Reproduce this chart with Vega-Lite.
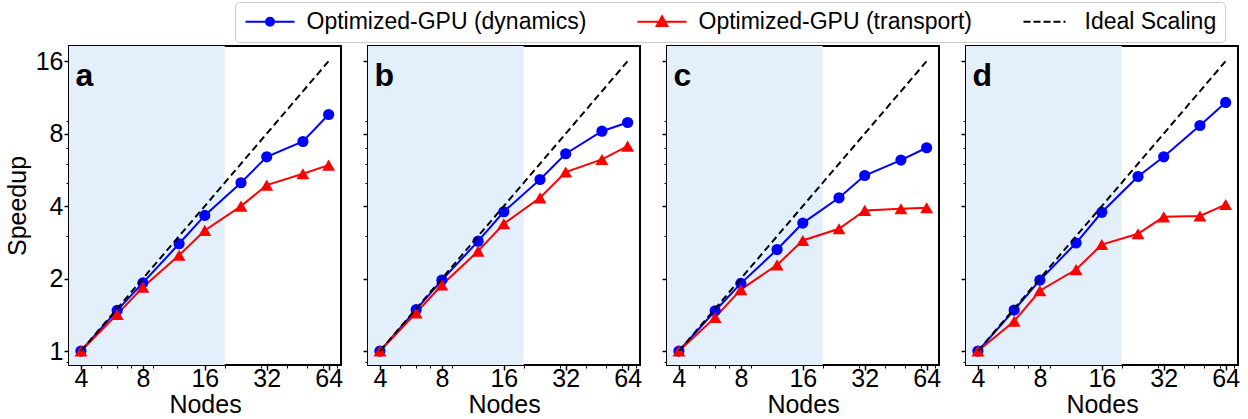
{
  "$schema": "https://vega.github.io/schema/vega-lite/v6.json",
  "padding": {"left": 4, "top": 1, "right": 0, "bottom": 0},
  "datasets": {
    "curves": [
      {"panel": "a", "series": "Optimized-GPU (dynamics)", "nodes": 4, "speedup": 1},
      {"panel": "a", "series": "Optimized-GPU (dynamics)", "nodes": 6, "speedup": 1.475},
      {"panel": "a", "series": "Optimized-GPU (dynamics)", "nodes": 8, "speedup": 1.92},
      {"panel": "a", "series": "Optimized-GPU (dynamics)", "nodes": 12, "speedup": 2.79},
      {"panel": "a", "series": "Optimized-GPU (dynamics)", "nodes": 16, "speedup": 3.66},
      {"panel": "a", "series": "Optimized-GPU (dynamics)", "nodes": 24, "speedup": 5.0},
      {"panel": "a", "series": "Optimized-GPU (dynamics)", "nodes": 32, "speedup": 6.41},
      {"panel": "a", "series": "Optimized-GPU (dynamics)", "nodes": 48, "speedup": 7.42},
      {"panel": "a", "series": "Optimized-GPU (dynamics)", "nodes": 64, "speedup": 9.61},
      {"panel": "a", "series": "Optimized-GPU (transport)", "nodes": 4, "speedup": 1},
      {"panel": "a", "series": "Optimized-GPU (transport)", "nodes": 6, "speedup": 1.42},
      {"panel": "a", "series": "Optimized-GPU (transport)", "nodes": 8, "speedup": 1.84},
      {"panel": "a", "series": "Optimized-GPU (transport)", "nodes": 12, "speedup": 2.5},
      {"panel": "a", "series": "Optimized-GPU (transport)", "nodes": 16, "speedup": 3.17},
      {"panel": "a", "series": "Optimized-GPU (transport)", "nodes": 24, "speedup": 4.0},
      {"panel": "a", "series": "Optimized-GPU (transport)", "nodes": 32, "speedup": 4.89},
      {"panel": "a", "series": "Optimized-GPU (transport)", "nodes": 48, "speedup": 5.45},
      {"panel": "a", "series": "Optimized-GPU (transport)", "nodes": 64, "speedup": 5.92},
      {"panel": "b", "series": "Optimized-GPU (dynamics)", "nodes": 4, "speedup": 1},
      {"panel": "b", "series": "Optimized-GPU (dynamics)", "nodes": 6, "speedup": 1.485},
      {"panel": "b", "series": "Optimized-GPU (dynamics)", "nodes": 8, "speedup": 1.97},
      {"panel": "b", "series": "Optimized-GPU (dynamics)", "nodes": 12, "speedup": 2.86},
      {"panel": "b", "series": "Optimized-GPU (dynamics)", "nodes": 16, "speedup": 3.79},
      {"panel": "b", "series": "Optimized-GPU (dynamics)", "nodes": 24, "speedup": 5.16},
      {"panel": "b", "series": "Optimized-GPU (dynamics)", "nodes": 32, "speedup": 6.6},
      {"panel": "b", "series": "Optimized-GPU (dynamics)", "nodes": 48, "speedup": 8.19},
      {"panel": "b", "series": "Optimized-GPU (dynamics)", "nodes": 64, "speedup": 8.9},
      {"panel": "b", "series": "Optimized-GPU (transport)", "nodes": 4, "speedup": 1},
      {"panel": "b", "series": "Optimized-GPU (transport)", "nodes": 6, "speedup": 1.44},
      {"panel": "b", "series": "Optimized-GPU (transport)", "nodes": 8, "speedup": 1.88},
      {"panel": "b", "series": "Optimized-GPU (transport)", "nodes": 12, "speedup": 2.6},
      {"panel": "b", "series": "Optimized-GPU (transport)", "nodes": 16, "speedup": 3.38},
      {"panel": "b", "series": "Optimized-GPU (transport)", "nodes": 24, "speedup": 4.33},
      {"panel": "b", "series": "Optimized-GPU (transport)", "nodes": 32, "speedup": 5.54},
      {"panel": "b", "series": "Optimized-GPU (transport)", "nodes": 48, "speedup": 6.25},
      {"panel": "b", "series": "Optimized-GPU (transport)", "nodes": 64, "speedup": 7.1},
      {"panel": "c", "series": "Optimized-GPU (dynamics)", "nodes": 4, "speedup": 1},
      {"panel": "c", "series": "Optimized-GPU (dynamics)", "nodes": 6, "speedup": 1.47},
      {"panel": "c", "series": "Optimized-GPU (dynamics)", "nodes": 8, "speedup": 1.91},
      {"panel": "c", "series": "Optimized-GPU (dynamics)", "nodes": 12, "speedup": 2.64},
      {"panel": "c", "series": "Optimized-GPU (dynamics)", "nodes": 16, "speedup": 3.4},
      {"panel": "c", "series": "Optimized-GPU (dynamics)", "nodes": 24, "speedup": 4.33},
      {"panel": "c", "series": "Optimized-GPU (dynamics)", "nodes": 32, "speedup": 5.36},
      {"panel": "c", "series": "Optimized-GPU (dynamics)", "nodes": 48, "speedup": 6.21},
      {"panel": "c", "series": "Optimized-GPU (dynamics)", "nodes": 64, "speedup": 6.99},
      {"panel": "c", "series": "Optimized-GPU (transport)", "nodes": 4, "speedup": 1},
      {"panel": "c", "series": "Optimized-GPU (transport)", "nodes": 6, "speedup": 1.38},
      {"panel": "c", "series": "Optimized-GPU (transport)", "nodes": 8, "speedup": 1.8},
      {"panel": "c", "series": "Optimized-GPU (transport)", "nodes": 12, "speedup": 2.28},
      {"panel": "c", "series": "Optimized-GPU (transport)", "nodes": 16, "speedup": 2.88},
      {"panel": "c", "series": "Optimized-GPU (transport)", "nodes": 24, "speedup": 3.22},
      {"panel": "c", "series": "Optimized-GPU (transport)", "nodes": 32, "speedup": 3.84},
      {"panel": "c", "series": "Optimized-GPU (transport)", "nodes": 48, "speedup": 3.9},
      {"panel": "c", "series": "Optimized-GPU (transport)", "nodes": 64, "speedup": 3.94},
      {"panel": "d", "series": "Optimized-GPU (dynamics)", "nodes": 4, "speedup": 1},
      {"panel": "d", "series": "Optimized-GPU (dynamics)", "nodes": 6, "speedup": 1.48},
      {"panel": "d", "series": "Optimized-GPU (dynamics)", "nodes": 8, "speedup": 1.97},
      {"panel": "d", "series": "Optimized-GPU (dynamics)", "nodes": 12, "speedup": 2.81},
      {"panel": "d", "series": "Optimized-GPU (dynamics)", "nodes": 16, "speedup": 3.77},
      {"panel": "d", "series": "Optimized-GPU (dynamics)", "nodes": 24, "speedup": 5.31},
      {"panel": "d", "series": "Optimized-GPU (dynamics)", "nodes": 32, "speedup": 6.41},
      {"panel": "d", "series": "Optimized-GPU (dynamics)", "nodes": 48, "speedup": 8.65},
      {"panel": "d", "series": "Optimized-GPU (dynamics)", "nodes": 64, "speedup": 10.78},
      {"panel": "d", "series": "Optimized-GPU (transport)", "nodes": 4, "speedup": 1},
      {"panel": "d", "series": "Optimized-GPU (transport)", "nodes": 6, "speedup": 1.33},
      {"panel": "d", "series": "Optimized-GPU (transport)", "nodes": 8, "speedup": 1.78},
      {"panel": "d", "series": "Optimized-GPU (transport)", "nodes": 12, "speedup": 2.18},
      {"panel": "d", "series": "Optimized-GPU (transport)", "nodes": 16, "speedup": 2.77},
      {"panel": "d", "series": "Optimized-GPU (transport)", "nodes": 24, "speedup": 3.07},
      {"panel": "d", "series": "Optimized-GPU (transport)", "nodes": 32, "speedup": 3.61},
      {"panel": "d", "series": "Optimized-GPU (transport)", "nodes": 48, "speedup": 3.64},
      {"panel": "d", "series": "Optimized-GPU (transport)", "nodes": 64, "speedup": 4.06}
    ],
    "ideal": [
      {"series": "Ideal Scaling", "nodes": 4, "speedup": 1},
      {"series": "Ideal Scaling", "nodes": 64, "speedup": 16}
    ]
  },
  "hconcat": [
    {
      "width": 272, "height": 319,
      "layer": [
        {
          "data": {"values": [{}]},
          "mark": {"type": "rect", "color": "#e3f0fb"},
          "encoding": {
            "x": {"datum": 3.5, "type": "quantitative",
              "scale": {"type": "log", "base": 2, "domain": [3.5, 73.5], "nice": false},
              "axis": {"title": "Nodes", "values": [4, 5, 6, 7, 8, 9, 16, 20, 30, 32, 40, 50, 60, 64, 70],
                "labelExpr": "indexof([4, 8, 16, 32, 64], datum.value) >= 0 ? '' + datum.value : ''",
                "tickSize": {"condition": {"test": "indexof([4, 8, 16, 32, 64], datum.value) >= 0", "value": 5}, "value": 3},
                "tickWidth": {"condition": {"test": "indexof([4, 8, 16, 32, 64], datum.value) >= 0", "value": 1.5}, "value": 1}}},
            "x2": {"datum": 20},
            "y": {"datum": 0.875, "type": "quantitative",
              "scale": {"type": "log", "base": 2, "domain": [0.875, 18.5], "nice": false},
              "axis": {"title": "Speedup", "values": [0.9, 1, 2, 3, 4, 5, 6, 7, 8, 9, 16],
                "labelExpr": "indexof([1, 2, 4, 8, 16], datum.value) >= 0 ? '' + datum.value : ''",
                "tickSize": {"condition": {"test": "indexof([1, 2, 4, 8, 16], datum.value) >= 0", "value": 5}, "value": 3},
                "tickWidth": {"condition": {"test": "indexof([1, 2, 4, 8, 16], datum.value) >= 0", "value": 1.5}, "value": 1}}},
            "y2": {"datum": 18.5}
          }
        },
        {
          "data": {"name": "curves"},
          "transform": [{"filter": "datum.panel === 'a'"}],
          "mark": {"type": "line", "strokeWidth": 2},
          "encoding": {
            "x": {"field": "nodes", "type": "quantitative"},
            "y": {"field": "speedup", "type": "quantitative"},
            "color": {"field": "series", "type": "nominal",
              "scale": {"domain": ["Optimized-GPU (dynamics)", "Optimized-GPU (transport)", "Ideal Scaling"], "range": ["#0000ff", "#ff0000", "#000000"]},
              "legend": {
                "orient": "none", "legendX": 166, "legendY": -44, "direction": "horizontal",
                "title": null, "labelFontSize": 23, "labelFont": "Liberation Sans", "labelColor": "black",
                "labelLimit": 500, "symbolSize": 100, "symbolOffset": 15.5, "labelOffset": 25, "columnPadding": 46,
                "padding": 8, "strokeColor": "#cccccc", "cornerRadius": 4, "fillColor": "white",
                "symbolStrokeWidth": 2,
                "encode": {
                  "symbols": {
                    "update": {
                      "shape": {"signal": "datum.value === 'Optimized-GPU (dynamics)' ? 'M-4.9,0H4.9M-0.8,0A0.8,0.8,0,1,1,0.8,0A0.8,0.8,0,1,1,-0.8,0Z' : datum.value === 'Optimized-GPU (transport)' ? 'M-4.9,0H4.9M0,-1.08L1.06,0.84L-1.06,0.84Z' : 'M-4.9,0H-3.5M-2.9,0H-1.5M-0.9,0H0.5M1.1,0H2.5M3.1,0H3.5'"},
                      "fill": {"scale": "color", "field": "value"},
                      "stroke": {"scale": "color", "field": "value"},
                      "strokeWidth": {"value": 2},
                      "opacity": {"value": 1}
                    }
                  }
                }
              }}
          }
        },
        {
          "data": {"name": "curves"},
          "transform": [{"filter": "datum.panel === 'a'"}],
          "mark": {"type": "point", "filled": true, "opacity": 1},
          "encoding": {
            "x": {"field": "nodes", "type": "quantitative"},
            "y": {"field": "speedup", "type": "quantitative"},
            "color": {"field": "series", "type": "nominal", "legend": null},
            "shape": {"field": "series", "type": "nominal", "scale": {"domain": ["Optimized-GPU (dynamics)", "Optimized-GPU (transport)"], "range": ["circle", "triangle-up"]}, "legend": null},
            "size": {"field": "series", "type": "nominal", "scale": {"domain": ["Optimized-GPU (dynamics)", "Optimized-GPU (transport)"], "range": [125, 165]}, "legend": null}
          }
        },
        {
          "data": {"name": "ideal"},
          "mark": {"type": "line", "color": "black", "strokeWidth": 2, "strokeDash": [7, 4]},
          "encoding": {
            "x": {"field": "nodes", "type": "quantitative"},
            "y": {"field": "speedup", "type": "quantitative"}
          }
        },
        {
          "data": {"values": [{}]},
          "mark": {"type": "text", "fontSize": 32, "fontWeight": "bold", "align": "left", "baseline": "alphabetic", "color": "black"},
          "encoding": {"x": {"datum": 3.76}, "y": {"datum": 12.6}, "text": {"value": "a"}}
        }
      ]
    },
    {
      "width": 272, "height": 319,
      "layer": [
        {
          "data": {"values": [{}]},
          "mark": {"type": "rect", "color": "#e3f0fb"},
          "encoding": {
            "x": {"datum": 3.5, "type": "quantitative",
              "scale": {"type": "log", "base": 2, "domain": [3.5, 73.5], "nice": false},
              "axis": {"title": "Nodes", "values": [4, 5, 6, 7, 8, 9, 16, 20, 30, 32, 40, 50, 60, 64, 70],
                "labelExpr": "indexof([4, 8, 16, 32, 64], datum.value) >= 0 ? '' + datum.value : ''",
                "tickSize": {"condition": {"test": "indexof([4, 8, 16, 32, 64], datum.value) >= 0", "value": 5}, "value": 3},
                "tickWidth": {"condition": {"test": "indexof([4, 8, 16, 32, 64], datum.value) >= 0", "value": 1.5}, "value": 1}}},
            "x2": {"datum": 20},
            "y": {"datum": 0.875, "type": "quantitative",
              "scale": {"type": "log", "base": 2, "domain": [0.875, 18.5], "nice": false},
              "axis": {"title": null, "labels": false, "values": [0.9, 1, 2, 3, 4, 5, 6, 7, 8, 9, 16],
                "tickSize": {"condition": {"test": "indexof([1, 2, 4, 8, 16], datum.value) >= 0", "value": 5}, "value": 3},
                "tickWidth": {"condition": {"test": "indexof([1, 2, 4, 8, 16], datum.value) >= 0", "value": 1.5}, "value": 1}}},
            "y2": {"datum": 18.5}
          }
        },
        {
          "data": {"name": "curves"},
          "transform": [{"filter": "datum.panel === 'b'"}],
          "mark": {"type": "line", "strokeWidth": 2},
          "encoding": {
            "x": {"field": "nodes", "type": "quantitative"},
            "y": {"field": "speedup", "type": "quantitative"},
            "color": {"field": "series", "type": "nominal", "legend": null}
          }
        },
        {
          "data": {"name": "curves"},
          "transform": [{"filter": "datum.panel === 'b'"}],
          "mark": {"type": "point", "filled": true, "opacity": 1},
          "encoding": {
            "x": {"field": "nodes", "type": "quantitative"},
            "y": {"field": "speedup", "type": "quantitative"},
            "color": {"field": "series", "type": "nominal", "legend": null},
            "shape": {"field": "series", "type": "nominal", "legend": null},
            "size": {"field": "series", "type": "nominal", "legend": null}
          }
        },
        {
          "data": {"name": "ideal"},
          "mark": {"type": "line", "color": "black", "strokeWidth": 2, "strokeDash": [7, 4]},
          "encoding": {
            "x": {"field": "nodes", "type": "quantitative"},
            "y": {"field": "speedup", "type": "quantitative"}
          }
        },
        {
          "data": {"values": [{}]},
          "mark": {"type": "text", "fontSize": 32, "fontWeight": "bold", "align": "left", "baseline": "alphabetic", "color": "black"},
          "encoding": {"x": {"datum": 3.76}, "y": {"datum": 12.6}, "text": {"value": "b"}}
        }
      ]
    },
    {
      "width": 272, "height": 319,
      "layer": [
        {
          "data": {"values": [{}]},
          "mark": {"type": "rect", "color": "#e3f0fb"},
          "encoding": {
            "x": {"datum": 3.5, "type": "quantitative",
              "scale": {"type": "log", "base": 2, "domain": [3.5, 73.5], "nice": false},
              "axis": {"title": "Nodes", "values": [4, 5, 6, 7, 8, 9, 16, 20, 30, 32, 40, 50, 60, 64, 70],
                "labelExpr": "indexof([4, 8, 16, 32, 64], datum.value) >= 0 ? '' + datum.value : ''",
                "tickSize": {"condition": {"test": "indexof([4, 8, 16, 32, 64], datum.value) >= 0", "value": 5}, "value": 3},
                "tickWidth": {"condition": {"test": "indexof([4, 8, 16, 32, 64], datum.value) >= 0", "value": 1.5}, "value": 1}}},
            "x2": {"datum": 20},
            "y": {"datum": 0.875, "type": "quantitative",
              "scale": {"type": "log", "base": 2, "domain": [0.875, 18.5], "nice": false},
              "axis": {"title": null, "labels": false, "values": [0.9, 1, 2, 3, 4, 5, 6, 7, 8, 9, 16],
                "tickSize": {"condition": {"test": "indexof([1, 2, 4, 8, 16], datum.value) >= 0", "value": 5}, "value": 3},
                "tickWidth": {"condition": {"test": "indexof([1, 2, 4, 8, 16], datum.value) >= 0", "value": 1.5}, "value": 1}}},
            "y2": {"datum": 18.5}
          }
        },
        {
          "data": {"name": "curves"},
          "transform": [{"filter": "datum.panel === 'c'"}],
          "mark": {"type": "line", "strokeWidth": 2},
          "encoding": {
            "x": {"field": "nodes", "type": "quantitative"},
            "y": {"field": "speedup", "type": "quantitative"},
            "color": {"field": "series", "type": "nominal", "legend": null}
          }
        },
        {
          "data": {"name": "curves"},
          "transform": [{"filter": "datum.panel === 'c'"}],
          "mark": {"type": "point", "filled": true, "opacity": 1},
          "encoding": {
            "x": {"field": "nodes", "type": "quantitative"},
            "y": {"field": "speedup", "type": "quantitative"},
            "color": {"field": "series", "type": "nominal", "legend": null},
            "shape": {"field": "series", "type": "nominal", "legend": null},
            "size": {"field": "series", "type": "nominal", "legend": null}
          }
        },
        {
          "data": {"name": "ideal"},
          "mark": {"type": "line", "color": "black", "strokeWidth": 2, "strokeDash": [7, 4]},
          "encoding": {
            "x": {"field": "nodes", "type": "quantitative"},
            "y": {"field": "speedup", "type": "quantitative"}
          }
        },
        {
          "data": {"values": [{}]},
          "mark": {"type": "text", "fontSize": 32, "fontWeight": "bold", "align": "left", "baseline": "alphabetic", "color": "black"},
          "encoding": {"x": {"datum": 3.76}, "y": {"datum": 12.6}, "text": {"value": "c"}}
        }
      ]
    },
    {
      "width": 272, "height": 319,
      "layer": [
        {
          "data": {"values": [{}]},
          "mark": {"type": "rect", "color": "#e3f0fb"},
          "encoding": {
            "x": {"datum": 3.5, "type": "quantitative",
              "scale": {"type": "log", "base": 2, "domain": [3.5, 73.5], "nice": false},
              "axis": {"title": "Nodes", "values": [4, 5, 6, 7, 8, 9, 16, 20, 30, 32, 40, 50, 60, 64, 70],
                "labelExpr": "indexof([4, 8, 16, 32, 64], datum.value) >= 0 ? '' + datum.value : ''",
                "tickSize": {"condition": {"test": "indexof([4, 8, 16, 32, 64], datum.value) >= 0", "value": 5}, "value": 3},
                "tickWidth": {"condition": {"test": "indexof([4, 8, 16, 32, 64], datum.value) >= 0", "value": 1.5}, "value": 1}}},
            "x2": {"datum": 20},
            "y": {"datum": 0.875, "type": "quantitative",
              "scale": {"type": "log", "base": 2, "domain": [0.875, 18.5], "nice": false},
              "axis": {"title": null, "labels": false, "values": [0.9, 1, 2, 3, 4, 5, 6, 7, 8, 9, 16],
                "tickSize": {"condition": {"test": "indexof([1, 2, 4, 8, 16], datum.value) >= 0", "value": 5}, "value": 3},
                "tickWidth": {"condition": {"test": "indexof([1, 2, 4, 8, 16], datum.value) >= 0", "value": 1.5}, "value": 1}}},
            "y2": {"datum": 18.5}
          }
        },
        {
          "data": {"name": "curves"},
          "transform": [{"filter": "datum.panel === 'd'"}],
          "mark": {"type": "line", "strokeWidth": 2},
          "encoding": {
            "x": {"field": "nodes", "type": "quantitative"},
            "y": {"field": "speedup", "type": "quantitative"},
            "color": {"field": "series", "type": "nominal", "legend": null}
          }
        },
        {
          "data": {"name": "curves"},
          "transform": [{"filter": "datum.panel === 'd'"}],
          "mark": {"type": "point", "filled": true, "opacity": 1},
          "encoding": {
            "x": {"field": "nodes", "type": "quantitative"},
            "y": {"field": "speedup", "type": "quantitative"},
            "color": {"field": "series", "type": "nominal", "legend": null},
            "shape": {"field": "series", "type": "nominal", "legend": null},
            "size": {"field": "series", "type": "nominal", "legend": null}
          }
        },
        {
          "data": {"name": "ideal"},
          "mark": {"type": "line", "color": "black", "strokeWidth": 2, "strokeDash": [7, 4]},
          "encoding": {
            "x": {"field": "nodes", "type": "quantitative"},
            "y": {"field": "speedup", "type": "quantitative"}
          }
        },
        {
          "data": {"values": [{}]},
          "mark": {"type": "text", "fontSize": 32, "fontWeight": "bold", "align": "left", "baseline": "alphabetic", "color": "black"},
          "encoding": {"x": {"datum": 3.76}, "y": {"datum": 12.6}, "text": {"value": "d"}}
        }
      ]
    }
  ],
  "spacing": 27,
  "bounds": "flush",
  "config": {
    "font": "Liberation Sans",
    "background": "white",
    "view": {"stroke": "black", "strokeWidth": 2},
    "axis": {
      "domain": false, "grid": false, "tickColor": "black", "labelColor": "black", "titleColor": "black",
      "labelFontSize": 25, "titleFontSize": 25, "titleFontWeight": "normal", "labelFont": "Liberation Sans", "titleFont": "Liberation Sans",
      "labelOverlap": false, "labelFlush": false, "labelPadding": 1, "titlePadding": 3
    },
    "axisX": {"labelPadding": -4, "titlePadding": 1},
    "axisY": {"titlePadding": 5}
  }
}
